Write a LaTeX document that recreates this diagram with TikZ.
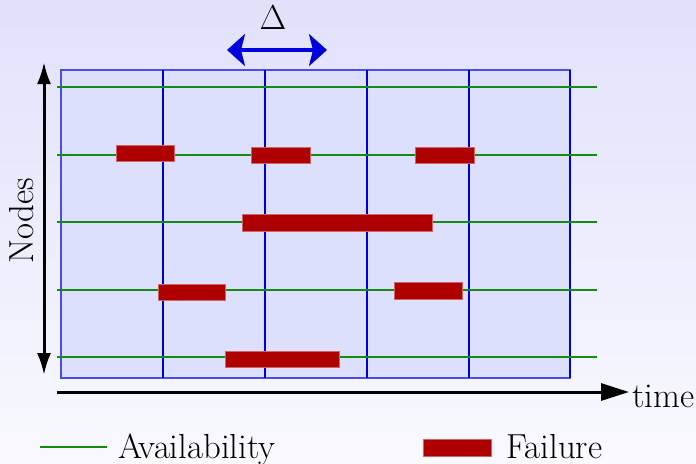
\documentclass[tikz,border=0pt]{standalone}
\usetikzlibrary{arrows.meta}
\definecolor{bgtop}{RGB}{225,225,252}
\definecolor{bgbot}{RGB}{249,249,254}
\definecolor{gridfill}{RGB}{221,224,252}
\definecolor{gridblue}{RGB}{0,0,220}
\definecolor{avgreen}{RGB}{20,140,20}
\definecolor{failred}{RGB}{174,0,0}
\begin{document}
\begin{tikzpicture}[x=0.5pt,y=-0.5pt,
  txt/.style={font=\fontsize{17.4}{20}\selectfont, inner sep=0pt},
  vline/.style={gridblue, line width=1pt},
  avail/.style={avgreen, line width=1pt},
  failbar/.style={fill=failred, draw=failred!60!white, line width=0.4pt},
  axis/.style={black, line width=1.5pt}]
\useasboundingbox (0,0) rectangle (696,463);
\shade[top color=bgtop, bottom color=bgbot] (0,0) rectangle (696,463);
% grid
\filldraw[fill=gridfill, draw=gridblue!70, line width=1pt] (61,70) rectangle (570,378);
\foreach \x in {163,265,367,469,570}
  \draw[vline] (\x,70) -- (\x,378);
% availability lines
\foreach \y in {87,155,222,290,357}
  \draw[avail] (57,\y) -- (597,\y);
% failures
\node[failbar, minimum width=29pt, minimum height=8pt, inner sep=0pt] (f1) at (145,153.5) {};
\node[failbar, minimum width=29.5pt, minimum height=8pt, inner sep=0pt] (f2) at (280.5,155) {};
\node[failbar, minimum width=29.5pt, minimum height=8pt, inner sep=0pt] (f3) at (444.5,155) {};
\node[failbar, minimum width=95pt, minimum height=8.5pt, inner sep=0pt] (f4) at (337,222.5) {};
\node[failbar, minimum width=33.5pt, minimum height=8pt, inner sep=0pt] (f5) at (191.5,292) {};
\node[failbar, minimum width=34pt, minimum height=8.5pt, inner sep=0pt] (f6) at (428,290.5) {};
\node[failbar, minimum width=57pt, minimum height=8pt, inner sep=0pt] (f7) at (282,359) {};
% delta
\coordinate (dl) at (227,50);
\coordinate (dr) at (327,50);
\draw[gridblue, line width=2pt, {Stealth[length=9pt,width=16pt,inset=2pt]}-{Stealth[length=9pt,width=16pt,inset=2pt]}] (dl) -- (dr);
\node[txt] (delta) at (273,18) {$\Delta$};
% nodes axis
\coordinate (nt) at (44,62);
\coordinate (nb) at (44,375);
\draw[axis, {Latex[length=11pt,width=7pt]}-{Latex[length=11pt,width=7pt]}] (nb) -- (nt);
\node[txt, rotate=90] (nodes) at (22,221) {Nodes};
% time axis
\coordinate (t0) at (57,392);
\coordinate (t1) at (629,392);
\draw[axis, -{Triangle[length=14pt,width=8.5pt]}] (t0) -- (t1);
\node[txt, anchor=west] (time) at (632,396) {time};
% legend
\coordinate (la) at (40,447);
\coordinate (lb) at (107,447);
\draw[avail] (la) -- (lb);
\node[txt, anchor=base west] (avl) at (118,458) {Availability};
\node[failbar, minimum width=34pt, minimum height=8.5pt, inner sep=0pt] (lf) at (457,447.5) {};
\node[txt, anchor=base west] (fl) at (506,458) {Failure};
\end{tikzpicture}
\end{document}
